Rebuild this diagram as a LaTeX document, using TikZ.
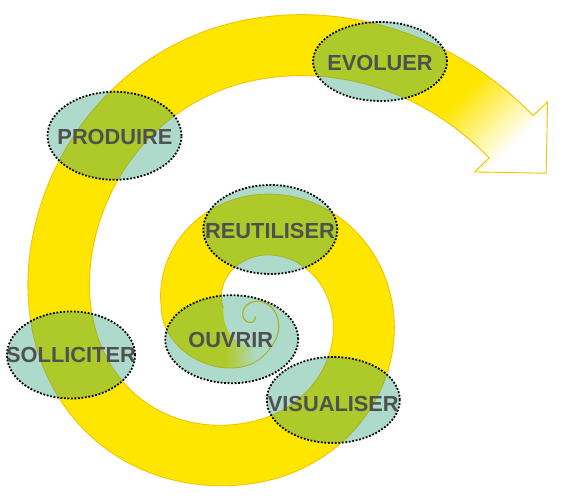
\documentclass[tikz,border=0pt]{standalone}
\usepackage{fontspec}
\setmainfont{Liberation Sans}
\usetikzlibrary{calc,shapes.geometric}
\definecolor{bandY}{RGB}{255,230,0}
\definecolor{bandO}{RGB}{245,195,0}
\definecolor{bubbleC}{RGB}{36,155,115}
\definecolor{txtC}{RGB}{80,80,80}
\begin{document}
\begin{tikzpicture}[x=1pt,y=1pt,
  declare function={
    rm(\t)=61*exp(0.00321*(180-(\t))) - 14*sin(\t)*(cos(\t))^2*((\t)<-90)*((\t)>-270);
    sr(\t)=18*1.7^((57.6-(\t))/90);
  },
  bubble/.style={ellipse, draw=black, line width=1.8pt, dash pattern=on 1.8pt off 1.7pt,
    fill=bubbleC, fill opacity=0.37, draw opacity=1, inner sep=0pt},
  lbl/.style={font=\fontsize{21.8}{26}\selectfont\bfseries, text=txtC, inner sep=0pt},
  bandline/.style={draw=bandO, line width=0.9pt, line join=round},
  swirlline/.style={draw=bandO, line width=1.2pt, line cap=round},
]
\useasboundingbox (0,0) rectangle (563,500);

% key points of the band
\coordinate (O) at ({253.3+(rm(-325.57)+31)*cos(-325.57)},{192.5+(rm(-325.57)+31)*sin(-325.57)});
\coordinate (I) at ({253.3+(rm(-327.63)-31)*cos(-327.63)},{192.5+(rm(-327.63)-31)*sin(-327.63)});
\coordinate (M) at ($(O)!0.5!(I)$);
\coordinate (T) at ($(M)!1.656!-90:(O)$);
\coordinate (BO) at ($(I)!1.33!(O)$);
\coordinate (BI) at ($(O)!1.33!(I)$);
\coordinate (OL) at (161.3,192.5);
\coordinate (IL) at (223.3,192.5);
\coordinate (SW) at ({252+sr(-58)*cos(-58)},{183+sr(-58)*sin(-58)});

\def\bandpath{plot[domain=180:-325.57,samples=500,variable=\a] ({253.3+(rm(\a)+31)*cos(\a)},{192.5+(rm(\a)+31)*sin(\a)})
  -- (BO) -- (T) -- (BI) -- (I)
  -- plot[domain=-327.63:180,samples=500,variable=\a] ({253.3+(rm(\a)-31)*cos(\a)},{192.5+(rm(\a)-31)*sin(\a)})
  .. controls (223.3,168) and (232,150) .. (SW)
  .. controls (262,140) and (250,132) .. (230,132)
  .. controls (195,132) and (161.3,160) .. (OL) -- cycle}

% band fill
\fill[bandY] \bandpath;
\begin{scope}
  \clip \bandpath;
  % fading tip in the centre
  \shade[left color=bandY, right color=white] (226,105) rectangle (258,180);
  \fill[white] (258,105) rectangle (300,180);
  % fading arrow
  \begin{scope}
    \clip (400,320) rectangle (563,500);
    \begin{scope}[shift={(468,412)},rotate=-45]
      \foreach \i in {1,...,30}{
        \pgfmathsetmacro\s{72*\i/30}
        \pgfmathsetmacro\p{100-100*\i/30}
        \fill[bandY!\p!white] (\s,-150) rectangle (300,150);
      }
    \end{scope}
  \end{scope}
\end{scope}

% outlines
\draw[bandline] plot[domain=180:-325.57,samples=500,variable=\a] ({253.3+(rm(\a)+31)*cos(\a)},{192.5+(rm(\a)+31)*sin(\a)})
  -- (BO) -- (T) -- (BI) -- (I)
  -- plot[domain=-327.63:180,samples=500,variable=\a] ({253.3+(rm(\a)-31)*cos(\a)},{192.5+(rm(\a)-31)*sin(\a)});
\draw[bandline] (OL) .. controls (161.3,160) and (195,132) .. (230,132)
  .. controls (250,132) and (262,140) .. (SW);
\draw[swirlline] plot[domain=-58:365,samples=200,variable=\a] ({252+sr(\a)*cos(\a)},{183+sr(\a)*sin(\a)});

% bubbles
\node[bubble, minimum width=134pt, minimum height=79pt] (evoE) at (380,438.5) {};
\node[bubble, minimum width=134pt, minimum height=88pt] (proE) at (114.5,364.2) {};
\node[bubble, minimum width=134pt, minimum height=89pt] (reuE) at (270.3,270.5) {};
\node[bubble, minimum width=133pt, minimum height=88pt] (ouvE) at (231.7,160.8) {};
\node[bubble, minimum width=133pt, minimum height=86pt] (visE) at (333.3,100) {};
\node[bubble, minimum width=128pt, minimum height=87pt] (solE) at (71,145) {};

% labels
\node[lbl] (evoT) at (380,437) {EVOLUER};
\node[lbl] (proT) at (115,363.3) {PRODUIRE};
\node[lbl] (reuT) at (270,269) {REUTILISER};
\node[lbl] (ouvT) at (230.8,160) {OUVRIR};
\node[lbl] (visT) at (333.3,96) {VISUALISER};
\node[lbl] (solT) at (71,144.5) {SOLLICITER};
\end{tikzpicture}
\end{document}
